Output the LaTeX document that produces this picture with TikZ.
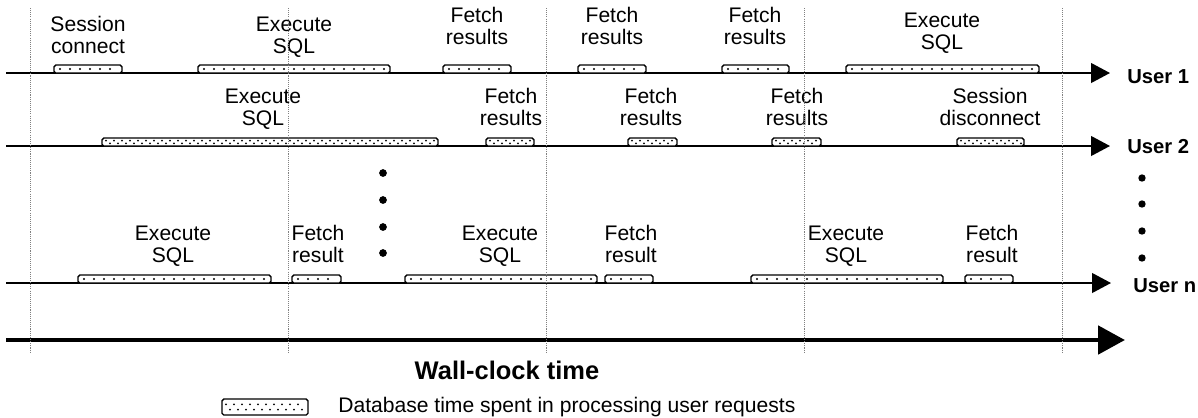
\documentclass[tikz,border=0pt]{standalone}
\usepackage{fontspec}
\setmainfont{Liberation Sans}
\usetikzlibrary{arrows.meta}

\tikzset{
  lbl/.style={anchor=south,inner sep=0pt,text depth=0pt,align=center,font=\fontsize{12}{12.7}\selectfont},
  usr/.style={anchor=base west,inner sep=0pt,font=\fontsize{11.5}{13}\selectfont\bfseries},
  timeline/.style={line width=0.85pt,-{Triangle[length=10.8pt,width=11.3pt]}},
  clockline/.style={line width=2.8pt,-{Triangle[length=15.3pt,width=15.9pt]}},
  gridline/.style={gray,line width=0.4pt,dash pattern=on 0.6pt off 0.6pt},
  dbbox/.style={draw,line width=0.8pt,rounded corners=1pt,fill=white},
}

% box with one row of dots, sitting on the line at y
\newcommand{\dbbox}[3]{%
  \draw[dbbox] (#1,#3-8) rectangle (#2,#3);
  \pgfmathsetmacro{\dfirst}{#1+6}\pgfmathsetmacro{\dsecond}{#1+16}\pgfmathsetmacro{\dlast}{#2-4}
  \foreach \d in {\dfirst,\dsecond,...,\dlast} \fill (\d,#3-4) circle (0.6pt);
}
% box with two staggered rows of dots, from top to bottom
\newcommand{\dbboxtwo}[4]{%
  \draw[dbbox] (#1,#3) rectangle (#2,#4);
  \pgfmathsetmacro{\dfirst}{#1+4}\pgfmathsetmacro{\dsecond}{#1+12}\pgfmathsetmacro{\dlast}{#2-3}
  \foreach \d in {\dfirst,\dsecond,...,\dlast} \fill (\d,{#3+(#4-#3)/3}) circle (0.6pt);
  \pgfmathsetmacro{\dfirst}{#1+8}\pgfmathsetmacro{\dsecond}{#1+16}
  \foreach \d in {\dfirst,\dsecond,...,\dlast} \fill (\d,{#3+2*(#4-#3)/3}) circle (0.6pt);
}

\begin{document}
\begin{tikzpicture}[x=0.02cm,y=-0.02cm]
    \useasboundingbox (0,0) rectangle (1198,417);

    % time lines
    \coordinate (u1s) at (6,73);   \coordinate (u1e) at (1110,73);
    \coordinate (u2s) at (6,146);  \coordinate (u2e) at (1110,146);
    \coordinate (uns) at (6,283);  \coordinate (une) at (1111,283);
    \coordinate (wcs) at (6,340);  \coordinate (wce) at (1125,340);
    \draw[timeline] (u1s) -- (u1e);
    \draw[timeline] (u2s) -- (u2e);
    \draw[timeline] (uns) -- (une);
    \draw[clockline] (wcs) -- (wce);

    \node[usr] (user1) at (1127,83) {User 1};
    \node[usr] (user2) at (1127,153) {User 2};
    \node[usr] (usern) at (1133,292) {User n};

    % user 1
    \dbbox{54}{122}{73}
    \dbbox{198}{390}{73}
    \dbbox{443}{511}{73}
    \dbbox{578}{646}{73}
    \dbbox{722}{789}{73}
    \dbbox{846}{1039}{73}
    \node[lbl] (u1conn) at (88,54) {Session\\connect};
    \node[lbl] (u1exec) at (294,54) {Execute\\SQL};
    \node[lbl] (u1fetcha) at (477,45) {Fetch\\results};
    \node[lbl] (u1fetchb) at (612,45) {Fetch\\results};
    \node[lbl] (u1fetchc) at (755,45) {Fetch\\results};
    \node[lbl] (u1execb) at (942,50) {Execute\\SQL};

    % user 2
    \dbboxtwo{102}{438}{138}{146}
    \dbboxtwo{486}{534}{138}{146}
    \dbboxtwo{628}{677}{138}{146}
    \dbboxtwo{772}{821}{138}{146}
    \dbboxtwo{957}{1024}{138}{146}
    \node[lbl] (u2exec) at (263,126) {Execute\\SQL};
    \node[lbl] (u2fetcha) at (511,126) {Fetch\\results};
    \node[lbl] (u2fetchb) at (651,126) {Fetch\\results};
    \node[lbl] (u2fetchc) at (797,126) {Fetch\\results};
    \node[lbl] (u2disc) at (990,126) {Session\\disconnect};

    % user n
    \dbbox{78}{271}{283}
    \dbbox{292}{341}{283}
    \dbbox{405}{597}{283}
    \dbbox{605}{653}{283}
    \dbbox{751}{943}{283}
    \dbbox{965}{1013}{283}
    \node[lbl] (unexec) at (173,263) {Execute\\SQL};
    \node[lbl] (unfetcha) at (318,263) {Fetch\\result};
    \node[lbl] (unexecb) at (500,263) {Execute\\SQL};
    \node[lbl] (unfetchb) at (631,263) {Fetch\\result};
    \node[lbl] (unexecc) at (846,263) {Execute\\SQL};
    \node[lbl] (unfetchc) at (992,263) {Fetch\\result};

    % more users
    \foreach \y in {173,200,227,253} \fill (383,\y) circle (2.2pt);
    \foreach \y in {178,204,231,258} \fill (1142,\y) circle (2.1pt);

    % clock ticks
    \foreach \x in {30,288,546,804,1062} \draw[gridline] (\x,8) -- (\x,352);

    \node[inner sep=0pt,font=\fontsize{14.5}{16}\selectfont\bfseries] (wall) at (507,370) {Wall-clock time};

    % legend
    \dbboxtwo{222}{308}{399}{415}
    \node[anchor=base west,inner sep=0pt,font=\fontsize{12}{13}\selectfont] (legend) at (338,412) {Database time spent in processing user requests};
\end{tikzpicture}
\end{document}
